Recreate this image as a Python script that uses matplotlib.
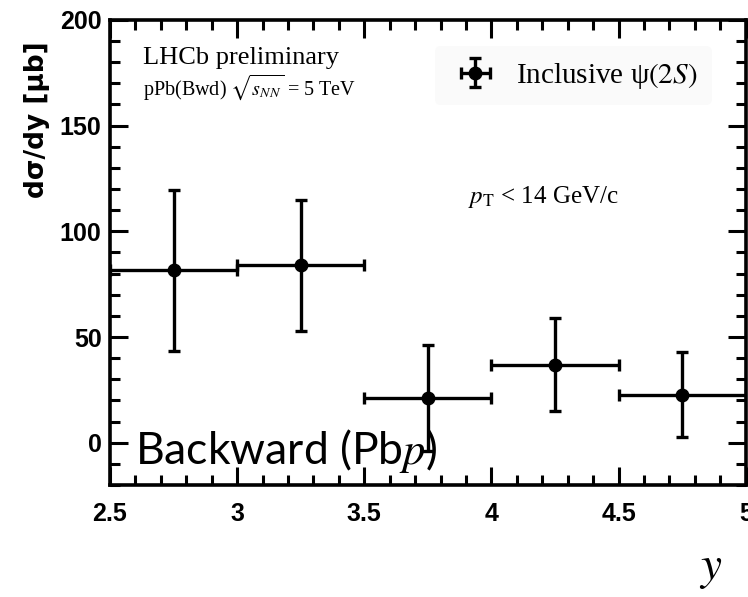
import numpy as np
import matplotlib
matplotlib.use("Agg")
import matplotlib.pyplot as plt
from matplotlib.ticker import MultipleLocator

plt.rcParams['mathtext.fontset'] = 'stix'

# bin centres, half-widths, cross sections and errors
y_centre = [2.75, 3.25, 3.75, 4.25, 4.75]
y_halfwidth = [0.25, 0.25, 0.25, 0.25, 0.25]
xsec = [81.5, 84.0, 21.3, 37.0, 22.7]
xsec_err = [38.0, 31.0, 25.0, 22.0, 20.0]

xticks = [2.5, 3, 3.5, 4, 4.5, 5]
xtick_labels = ['2.5', '3', '3.5', '4', '4.5', '5']
yticks = [0, 50, 100, 150, 200]

fig = plt.figure(figsize=(7.48, 5.97), dpi=100)
ax = fig.add_axes([0.147, 0.1876, 0.850, 0.779])

ax.errorbar(y_centre, xsec, xerr=y_halfwidth, yerr=xsec_err, fmt='o', color='black',
            ms=9, elinewidth=2.4, capsize=4, capthick=2.4, label=r'Inclusive ψ$(2S)$')

ax.set_xlim(2.5, 5)
ax.set_ylim(-20, 200)
ax.set_xticks(xticks)
ax.set_xticklabels(xtick_labels)
ax.set_yticks(yticks)
ax.xaxis.set_minor_locator(MultipleLocator(0.1))
ax.yaxis.set_minor_locator(MultipleLocator(10))
ax.tick_params(which='both', direction='in', top=True, right=True, width=2.2)
ax.tick_params(which='major', length=13, labelsize=18)
ax.tick_params(axis='x', which='major', pad=12)
ax.tick_params(axis='y', which='major', pad=6)
ax.tick_params(which='minor', length=7)
for lab in ax.get_xticklabels() + ax.get_yticklabels():
    lab.set_fontweight('bold')
    lab.set_family('Liberation Sans')
for sp in ax.spines.values():
    sp.set_linewidth(2.6)

fig.text(0.05, 0.80, 'dσ/dy [μb]', rotation=90, ha='center', va='center',
         fontsize=19, fontweight='bold', family='DejaVu Sans')

ax.text(0.052, 0.918, 'LHCb preliminary', transform=ax.transAxes, fontsize=19,
        family='Liberation Serif', va='center')
ax.text(0.052, 0.855, r'pPb(Bwd) $\sqrt{s_{NN}}$ = 5 TeV', transform=ax.transAxes,
        fontsize=14.5, family='Liberation Serif', va='center')
ax.text(0.563, 0.62, r'$p_{\mathrm{T}}$ < 14 GeV/c', transform=ax.transAxes, fontsize=18,
        family='Liberation Serif', va='center')

leg = ax.legend(loc='upper right', bbox_to_anchor=(0.97, 0.975), frameon=True,
                prop={'family': 'Liberation Serif', 'size': 21}, handlelength=1.8,
                handletextpad=0.5, borderpad=0.5)
leg.get_frame().set_facecolor('#f9f9f9')
leg.get_frame().set_edgecolor('none')

ax.text(0.04, 0.045, r'Backward (Pb$p$)', transform=ax.transAxes, fontsize=32,
        family='Lato', va='baseline')
fig.text(0.95, 0.03, r'$y$', fontsize=34, ha='center', va='baseline')

fig.savefig('out.png', dpi=100)
